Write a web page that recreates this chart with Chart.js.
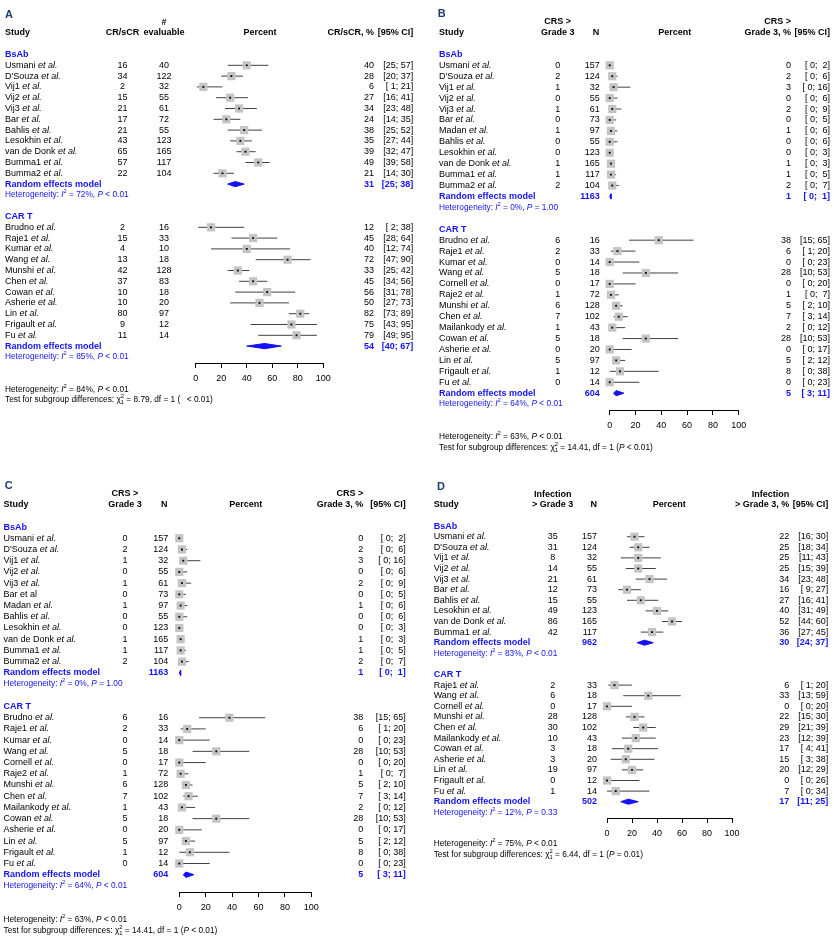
<!DOCTYPE html>
<html>
<head>
<meta charset="utf-8">
<script src="https://cdn.jsdelivr.net/npm/chart.js@4.4.0/dist/chart.umd.min.js"></script>
<style>
  body { margin: 0; background: #fff; }
  #page { position: relative; width: 834px; height: 942px; }
  #page canvas { position: absolute; }
</style>
</head>
<body>
<div id="page">
  <canvas id="chartA" width="417" height="471" style="left:0;top:0"></canvas>
  <canvas id="chartB" width="417" height="471" style="left:417px;top:0"></canvas>
  <canvas id="chartC" width="417" height="471" style="left:0;top:471px"></canvas>
  <canvas id="chartD" width="417" height="471" style="left:417px;top:471px"></canvas>
</div>
<script>
const FONT = '"Liberation Sans", Arial, sans-serif';
const BLUE = '#1212f2';
const NAVY = '#1f3b73';
const GREY = '#c4c4c4';

// ---------- A: CR/sCR ----------
const aBsabStudies = ["Usmani et al.", "D'Souza et al.", "Vij1 et al.", "Vij2 et al.", "Vij3 et al.", "Bar et al.", "Bahlis et al.", "Lesokhin et al.", "van de Donk et al.", "Bumma1 et al.", "Bumma2 et al."];
const aBsabEvents = [16, 34, 2, 15, 21, 17, 21, 43, 65, 57, 22];
const aBsabTotal = [40, 122, 32, 55, 61, 72, 55, 123, 165, 117, 104];
const aBsabPct = [40, 28, 6, 27, 34, 24, 38, 35, 39, 49, 21];
const aBsabLow = [25, 20, 1, 16, 23, 14, 25, 27, 32, 39, 14];
const aBsabHigh = [57, 37, 21, 41, 48, 35, 52, 44, 47, 58, 30];

const aCartStudies = ["Brudno et al.", "Raje1 et al.", "Kumar et al.", "Wang et al.", "Munshi et al.", "Chen et al.", "Cowan et al.", "Asherie et al.", "Lin et al.", "Frigault et al.", "Fu et al."];
const aCartEvents = [2, 15, 4, 13, 42, 37, 10, 10, 80, 9, 11];
const aCartTotal = [16, 33, 10, 18, 128, 83, 18, 20, 97, 12, 14];
const aCartPct = [12, 45, 40, 72, 33, 45, 56, 50, 82, 75, 79];
const aCartLow = [2, 28, 12, 47, 25, 34, 31, 27, 73, 43, 49];
const aCartHigh = [38, 64, 74, 90, 42, 56, 78, 73, 89, 95, 95];

const aPooledPct = [31, 54];
const aPooledLow = [25, 40];
const aPooledHigh = [38, 67];
const aPooledN = ['', ''];
const aHetI2 = [72, 85];
const aHetP = ['< 0.01', '< 0.01'];
const aOverall = [84, '< 0.01'];
const aTest = ['8.79', '\u2002', '< 0.01']; // P is missing in the original

// ---------- B: CRS > grade 3 ----------
const bBsabStudies = ["Usmani et al.", "D'Souza et al.", "Vij1 et al.", "Vij2 et al.", "Vij3 et al.", "Bar et al.", "Madan et al.", "Bahlis et al.", "Lesokhin et al.", "van de Donk et al.", "Bumma1 et al.", "Bumma2 et al."];
const bBsabEvents = [0, 2, 1, 0, 1, 0, 1, 0, 0, 1, 1, 2];
const bBsabTotal = [157, 124, 32, 55, 61, 73, 97, 55, 123, 165, 117, 104];
const bBsabPct = [0, 2, 3, 0, 2, 0, 1, 0, 0, 1, 1, 2];
const bBsabLow = [0, 0, 0, 0, 0, 0, 0, 0, 0, 0, 0, 0];
const bBsabHigh = [2, 6, 16, 6, 9, 5, 6, 6, 3, 3, 5, 7];

const bCartStudies = ["Brudno et al.", "Raje1 et al.", "Kumar et al.", "Wang et al.", "Cornell et al.", "Raje2 et al.", "Munshi et al.", "Chen et al.", "Mailankody et al.", "Cowan et al.", "Asherie et al.", "Lin et al.", "Frigault et al.", "Fu et al."];
const bCartEvents = [6, 2, 0, 5, 0, 1, 6, 7, 1, 5, 0, 5, 1, 0];
const bCartTotal = [16, 33, 14, 18, 17, 72, 128, 102, 43, 18, 20, 97, 12, 14];
const bCartPct = [38, 6, 0, 28, 0, 1, 5, 7, 2, 28, 0, 5, 8, 0];
const bCartLow = [15, 1, 0, 10, 0, 0, 2, 3, 0, 10, 0, 2, 0, 0];
const bCartHigh = [65, 20, 23, 53, 20, 7, 10, 14, 12, 53, 17, 12, 38, 23];

const bPooledPct = [1, 5];
const bPooledLow = [0, 3];
const bPooledHigh = [1, 11];
const bPooledN = ['1163', '604'];
const bHetI2 = [0, 64];
const bHetP = ['= 1.00', '< 0.01'];
const bOverall = [63, '< 0.01'];
const bTest = ['14.41', 'P', '< 0.01'];

// ---------- C: same data as B ----------
const cBsabStudies = ["Usmani et al.", "D'Souza et al.", "Vij1 et al.", "Vij2 et al.", "Vij3 et al.", "Bar et al", "Madan et al.", "Bahlis et al.", "Lesokhin et al.", "van de Donk et al.", "Bumma1 et al.", "Bumma2 et al."];

// ---------- D: infection > grade 3 ----------
const dBsabStudies = ["Usmani et al.", "D'Souza et al.", "Vij1 et al.", "Vij2 et al.", "Vij3 et al.", "Bar et al.", "Bahlis et al.", "Lesokhin et al.", "van de Donk et al.", "Bumma1 et al."];
const dBsabEvents = [35, 31, 8, 14, 21, 12, 15, 49, 86, 42];
const dBsabTotal = [157, 124, 32, 55, 61, 73, 55, 123, 165, 117];
const dBsabPct = [22, 25, 25, 25, 34, 16, 27, 40, 52, 36];
const dBsabLow = [16, 18, 11, 15, 23, 9, 16, 31, 44, 27];
const dBsabHigh = [30, 34, 43, 39, 48, 27, 41, 49, 60, 45];

const dCartStudies = ["Raje1 et al.", "Wang et al.", "Cornell et al.", "Munshi et al.", "Chen et al.", "Mailankody et al.", "Cowan et al.", "Asherie et al.", "Lin et al.", "Frigault et al.", "Fu et al."];
const dCartEvents = [2, 6, 0, 28, 30, 10, 3, 3, 19, 0, 1];
const dCartTotal = [33, 18, 17, 128, 102, 43, 18, 20, 97, 12, 14];
const dCartPct = [6, 33, 0, 22, 29, 23, 17, 15, 20, 0, 7];
const dCartLow = [1, 13, 0, 15, 21, 12, 4, 3, 12, 0, 0];
const dCartHigh = [20, 59, 20, 30, 39, 39, 41, 38, 29, 26, 34];

const dPooledPct = [30, 17];
const dPooledLow = [24, 11];
const dPooledHigh = [37, 25];
const dPooledN = ['962', '502'];
const dHetI2 = [83, 12];
const dHetP = ['< 0.01', '= 0.33'];
const dOverall = [75, '< 0.01'];
const dTest = ['6.44', 'P', '= 0.01'];

const groupLabels = ['BsAb', 'CAR T'];

// text helpers
function etal(name) {
  return name.endsWith(' et al.') ? [name.slice(0, -6), { t: 'et al.', i: 1 }] : [name];
}
function het(i2, p) {
  return ['Heterogeneity: ', { t: 'I', i: 1 }, { sup: '2' }, ` = ${i2}%, `, { t: 'P', i: 1 }, ` ${p}`];
}
function testLine(t) {
  return ['Test for subgroup differences: ', '\u03c7', { sup: '2', sub: '1' }, ` = ${t[0]}, df = 1 (`, { t: t[1], i: 1 }, ` ${t[2]})`];
}
function ci(lo, hi) {
  const pad = v => (v < 10 ? ' ' : '') + v;
  return `[${pad(lo)}; ${pad(hi)}]`;
}

function drawRich(ctx, segs, x, y, align, size, color, bold) {
  const w = bold ? 'bold ' : '';
  const fontOf = (s, it) => (it ? 'italic ' : '') + w + s + 'px ' + FONT;
  const parts = segs.map(s => {
    if (typeof s !== 'object') s = { t: String(s) };
    let width;
    if (s.sup || s.sub) {
      ctx.font = fontOf(size * 0.7, false);
      width = Math.max(ctx.measureText(s.sup || '').width, ctx.measureText(s.sub || '').width);
    } else {
      ctx.font = fontOf(size, s.i);
      width = ctx.measureText(s.t).width;
    }
    return { s, width };
  });
  const total = parts.reduce((a, p) => a + p.width, 0);
  let cx = align === 'right' ? x - total : align === 'center' ? x - total / 2 : x;
  ctx.fillStyle = color;
  ctx.textAlign = 'left';
  ctx.textBaseline = 'middle';
  parts.forEach(({ s, width }) => {
    if (s.sup || s.sub) {
      ctx.font = fontOf(size * 0.7, false);
      if (s.sup) ctx.fillText(s.sup, cx, y - size * 0.4);
      if (s.sub) ctx.fillText(s.sub, cx, y + size * 0.32);
    } else {
      ctx.font = fontOf(size, s.i);
      ctx.fillText(s.t, cx, y);
    }
    cx += width;
  });
}

function textPlugin(items) {
  return {
    id: 'forestText',
    afterDraw(chart) {
      const ctx = chart.ctx;
      const ys = chart.scales.y;
      ctx.save();
      items.forEach(it => drawRich(ctx, it.segs, it.x, ys.getPixelForValue(it.row), it.align, it.size, it.color, it.bold));
      ctx.restore();
    }
  };
}

function buildPanel(canvasId, geo, head, groups, overall, test) {
  const W = 417, H = 471, DH = 0.24;
  const items = [];
  const txt = (row, x, align, segs, opt = {}) => items.push({
    row, x, align, segs: Array.isArray(segs) ? segs : [String(segs)],
    size: opt.size || 9, color: opt.color || '#000', bold: !!opt.bold
  });

  txt(-4.7, geo.xLetter, 'left', head.letter, { size: 11, bold: true, color: NAVY });
  txt(-3, geo.xStudy, 'left', 'Study', { bold: true });
  txt(-4, geo.xEvents, 'center', head.events[0], { bold: true });
  txt(-3, geo.xEvents, 'center', head.events[1], { bold: true });
  txt(-4, geo.xNHead, 'center', head.n[0], { bold: true });
  txt(-3, geo.xNHead, 'center', head.n[1], { bold: true });
  txt(-3, geo.xPctHead, 'center', 'Percent', { bold: true });
  txt(-4, geo.xEst, 'right', head.est[0], { bold: true });
  txt(-3, geo.xEst, 'right', head.est[1], { bold: true });
  txt(-3, geo.xCI, 'right', '[95% CI]', { bold: true });

  const squares = [], cis = [], diamonds = [];
  let r = 0, lastHet = 0;
  groups.forEach((g, gi) => {
    txt(r - 1, geo.xStudy, 'left', groupLabels[gi], { bold: true, color: BLUE });
    g.studies.forEach((name, k) => {
      const row = r + k;
      txt(row, geo.xStudy, 'left', etal(name));
      txt(row, geo.xEvents, 'center', g.events[k]);
      txt(row, geo.xN, geo.nAlign, g.total[k]);
      txt(row, geo.xEst, 'right', g.pct[k]);
      txt(row, geo.xCI, 'right', ci(g.low[k], g.high[k]));
      squares.push({ x: g.pct[k], y: row });
      cis.push({ x: g.low[k], y: row }, { x: g.high[k], y: row }, { x: null, y: null });
    });
    const pr = r + g.studies.length;
    const est = g.pooled[0], lo = g.pooled[1], hi = g.pooled[2];
    txt(pr, geo.xStudy, 'left', 'Random effects model', { bold: true, color: BLUE });
    if (g.pooledN) txt(pr, geo.xN, geo.nAlign, g.pooledN, { bold: true, color: BLUE });
    txt(pr, geo.xEst, 'right', est, { bold: true, color: BLUE });
    txt(pr, geo.xCI, 'right', ci(lo, hi), { bold: true, color: BLUE });
    diamonds.push([{ x: lo, y: pr }, { x: est, y: pr - DH }, { x: hi, y: pr }, { x: est, y: pr + DH }, { x: lo, y: pr }]);
    txt(pr + 1, geo.xStudy, 'left', het(g.i2, g.p), { size: 8.3, color: BLUE });
    lastHet = pr + 1;
    r = pr + 4;
  });
  txt(lastHet + 3, geo.xStudy, 'left', het(overall[0], overall[1]), { size: 8.3 });
  txt(lastHet + 4, geo.xStudy, 'left', testLine(test), { size: 8.3 });

  const yMin = -5.5, yMax = lastHet + 5;
  new Chart(document.getElementById(canvasId), {
    type: 'line',
    data: {
      datasets: [
        { data: squares.map(p => ({ ...p })), showLine: false, pointStyle: 'rect', pointRadius: 1.3,
          pointBackgroundColor: '#000', pointBorderWidth: 0, order: 0 },
        { data: squares, showLine: false, pointStyle: 'rect', pointRadius: 5.8,
          pointBackgroundColor: GREY, pointBorderWidth: 0, order: 1 },
        { data: cis, borderColor: '#404040', borderWidth: 1, pointRadius: 0, spanGaps: false, order: 2 },
        ...diamonds.map(d => ({ data: d, borderColor: BLUE, backgroundColor: BLUE, borderWidth: 1,
          fill: 'shape', pointRadius: 0, order: 1 }))
      ]
    },
    options: {
      responsive: false,
      animation: false,
      events: [],
      layout: {
        autoPadding: false,
        padding: {
          left: geo.axisL, right: W - geo.axisR,
          top: geo.y0 + yMin * geo.pitch, bottom: H - (geo.y0 + yMax * geo.pitch)
        }
      },
      elements: { line: { tension: 0 } },
      datasets: { line: { clip: false } },
      plugins: { legend: { display: false }, tooltip: { enabled: false } },
      scales: {
        x: {
          type: 'linear', min: 0, max: 100, position: { y: lastHet + 0.57 },
          ticks: { stepSize: 20, padding: 6, color: '#000', maxRotation: 0, font: { family: FONT, size: 9 } },
          grid: { drawOnChartArea: false, tickLength: 4, color: '#000' },
          border: { color: '#000', width: 1 }
        },
        y: { type: 'linear', display: false, reverse: true, min: yMin, max: yMax }
      }
    },
    plugins: [textPlugin(items)]
  });
}

buildPanel('chartA',
  { axisL: 195.7, axisR: 323.3, y0: 65.3, pitch: 10.8, xLetter: 5, xStudy: 5, xEvents: 122.5,
    nAlign: 'center', xN: 164, xNHead: 164, xPctHead: 260, xEst: 374, xCI: 413.3 },
  { letter: 'A', events: ['', 'CR/sCR'], n: ['#', 'evaluable'], est: ['', 'CR/sCR, %'] },
  [
    { studies: aBsabStudies, events: aBsabEvents, total: aBsabTotal, pct: aBsabPct, low: aBsabLow, high: aBsabHigh,
      pooled: [aPooledPct[0], aPooledLow[0], aPooledHigh[0]], pooledN: aPooledN[0], i2: aHetI2[0], p: aHetP[0] },
    { studies: aCartStudies, events: aCartEvents, total: aCartTotal, pct: aCartPct, low: aCartLow, high: aCartHigh,
      pooled: [aPooledPct[1], aPooledLow[1], aPooledHigh[1]], pooledN: aPooledN[1], i2: aHetI2[1], p: aHetP[1] }
  ], aOverall, aTest);

buildPanel('chartB',
  { axisL: 192.7, axisR: 321.7, y0: 65.3, pitch: 10.93, xLetter: 20.7, xStudy: 22, xEvents: 140.7,
    nAlign: 'right', xN: 182.7, xNHead: 179, xPctHead: 257.7, xEst: 374, xCI: 413 },
  { letter: 'B', events: ['CRS >', 'Grade 3'], n: ['', 'N'], est: ['CRS >', 'Grade 3, %'] },
  [
    { studies: bBsabStudies, events: bBsabEvents, total: bBsabTotal, pct: bBsabPct, low: bBsabLow, high: bBsabHigh,
      pooled: [bPooledPct[0], bPooledLow[0], bPooledHigh[0]], pooledN: bPooledN[0], i2: bHetI2[0], p: bHetP[0] },
    { studies: bCartStudies, events: bCartEvents, total: bCartTotal, pct: bCartPct, low: bCartLow, high: bCartHigh,
      pooled: [bPooledPct[1], bPooledLow[1], bPooledHigh[1]], pooledN: bPooledN[1], i2: bHetI2[1], p: bHetP[1] }
  ], bOverall, bTest);

buildPanel('chartC',
  { axisL: 179.3, axisR: 311.3, y0: 67.3, pitch: 11.22, xLetter: 4.7, xStudy: 3.5, xEvents: 125,
    nAlign: 'right', xN: 168.3, xNHead: 164.3, xPctHead: 245.7, xEst: 363.3, xCI: 405.7 },
  { letter: 'C', events: ['CRS >', 'Grade 3'], n: ['', 'N'], est: ['CRS >', 'Grade 3, %'] },
  [
    { studies: cBsabStudies, events: bBsabEvents, total: bBsabTotal, pct: bBsabPct, low: bBsabLow, high: bBsabHigh,
      pooled: [bPooledPct[0], bPooledLow[0], bPooledHigh[0]], pooledN: bPooledN[0], i2: bHetI2[0], p: bHetP[0] },
    { studies: bCartStudies, events: bCartEvents, total: bCartTotal, pct: bCartPct, low: bCartLow, high: bCartHigh,
      pooled: [bPooledPct[1], bPooledLow[1], bPooledHigh[1]], pooledN: bPooledN[1], i2: bHetI2[1], p: bHetP[1] }
  ], bOverall, bTest);

buildPanel('chartD',
  { axisL: 190, axisR: 315, y0: 65.7, pitch: 10.6, xLetter: 20, xStudy: 16.7, xEvents: 135.7,
    nAlign: 'right', xN: 180, xNHead: 176.7, xPctHead: 252.3, xEst: 372.3, xCI: 411.3 },
  { letter: 'D', events: ['Infection', '> Grade 3'], n: ['', 'N'], est: ['Infection', '> Grade 3, %'] },
  [
    { studies: dBsabStudies, events: dBsabEvents, total: dBsabTotal, pct: dBsabPct, low: dBsabLow, high: dBsabHigh,
      pooled: [dPooledPct[0], dPooledLow[0], dPooledHigh[0]], pooledN: dPooledN[0], i2: dHetI2[0], p: dHetP[0] },
    { studies: dCartStudies, events: dCartEvents, total: dCartTotal, pct: dCartPct, low: dCartLow, high: dCartHigh,
      pooled: [dPooledPct[1], dPooledLow[1], dPooledHigh[1]], pooledN: dPooledN[1], i2: dHetI2[1], p: dHetP[1] }
  ], dOverall, dTest);
</script>
</body>
</html>
